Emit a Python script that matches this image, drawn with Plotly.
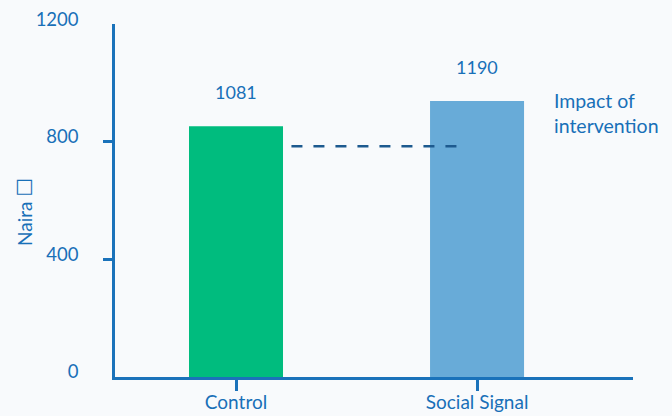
import plotly.graph_objects as go

# Average earnings by group (Naira)
groups = ["Control", "Social Signal"]
earnings = [1081, 1190]
bar_colors = ["#00bc7e", "#68abd8"]

# Counterfactual level carried across from the control group
baseline_level = 995
baseline_x = [0.23, 0.92]

# Axis tick labels and their position in earnings units
tick_labels = [0, 400, 800, 1200]
tick_scale = 1.267
tick_positions = [t * tick_scale for t in tick_labels]
marked_ticks = [p for t, p in zip(tick_labels, tick_positions) if t not in (0, 1200)]

BLUE = "#1a72ba"
TEXT = "#1870b8"
BG = "#f8fafc"
FONT = "Lato"
Y_MAX = 1522

L, R, T, B = 115, 39, 24, 39
W, H = 672, 416


def px_x(px):
    return (px - L) / (W - L - R)


def px_y(px):
    return 1 - (px - T) / (H - T - B)


fig = go.Figure()

fig.add_trace(go.Bar(
    x=[0, 1],
    y=earnings,
    width=0.39,
    marker=dict(color=bar_colors, line=dict(width=0)),
    hoverinfo="skip",
))

fig.add_trace(go.Scatter(
    x=baseline_x,
    y=[baseline_level, baseline_level],
    mode="lines",
    line=dict(color="#1d5a8f", width=2.5, dash="11px,11px"),
    yaxis="y2",
    hoverinfo="skip",
))

# Value labels above each bar
for i, v in enumerate(earnings):
    fig.add_annotation(
        x=i, y=v, text=str(v), showarrow=False,
        yanchor="middle", yshift=34,
        font=dict(family=FONT, size=18, color=TEXT),
    )

fig.add_annotation(
    x=px_x(552), y=px_y(113), xref="paper", yref="paper",
    text="Impact of<br>intervention", showarrow=False,
    xanchor="left", yanchor="middle", align="left",
    font=dict(family=FONT, size=19.5, color=TEXT),
)

# Vertical axis title
fig.add_annotation(
    x=px_x(25), y=px_y(212), xref="paper", yref="paper",
    text="Naira <span style=\"font-family:'DejaVu Sans';font-size:21px\">\u2610</span>",
    showarrow=False, textangle=-90,
    xanchor="center", yanchor="middle",
    font=dict(family=FONT, size=19, color=TEXT),
)

fig.update_layout(
    width=W, height=H, autosize=False,
    margin=dict(l=L, r=R, t=T, b=B),
    paper_bgcolor=BG, plot_bgcolor=BG,
    showlegend=False,
    font=dict(family=FONT, color=TEXT, size=19),
    xaxis=dict(
        range=[-0.502, 1.647], automargin=False,
        tickvals=[0, 1], ticktext=groups,
        showline=True, linecolor=BLUE, linewidth=2.5,
        ticks="outside", ticklen=11, tickwidth=2.5, tickcolor=BLUE,
        ticklabelstandoff=-5,
        showgrid=False, zeroline=False,
        tickfont=dict(family=FONT, size=19, color=TEXT),
    ),
    yaxis=dict(
        range=[0, Y_MAX], automargin=False,
        tickvals=tick_positions, ticktext=[str(t) for t in tick_labels],
        ticks="", ticklabelstandoff=30, ticklabelshift=-5,
        showline=True, linecolor=BLUE, linewidth=2.5,
        showgrid=False, zeroline=False,
        tickfont=dict(family=FONT, size=18.5, color=TEXT),
    ),
    yaxis2=dict(
        range=[0, Y_MAX], overlaying="y", side="left", automargin=False,
        tickvals=marked_ticks, showticklabels=False,
        ticks="outside", ticklen=11, tickwidth=2.5, tickcolor=BLUE,
        showline=False, showgrid=False, zeroline=False,
    ),
)

fig.write_html("out.html")
